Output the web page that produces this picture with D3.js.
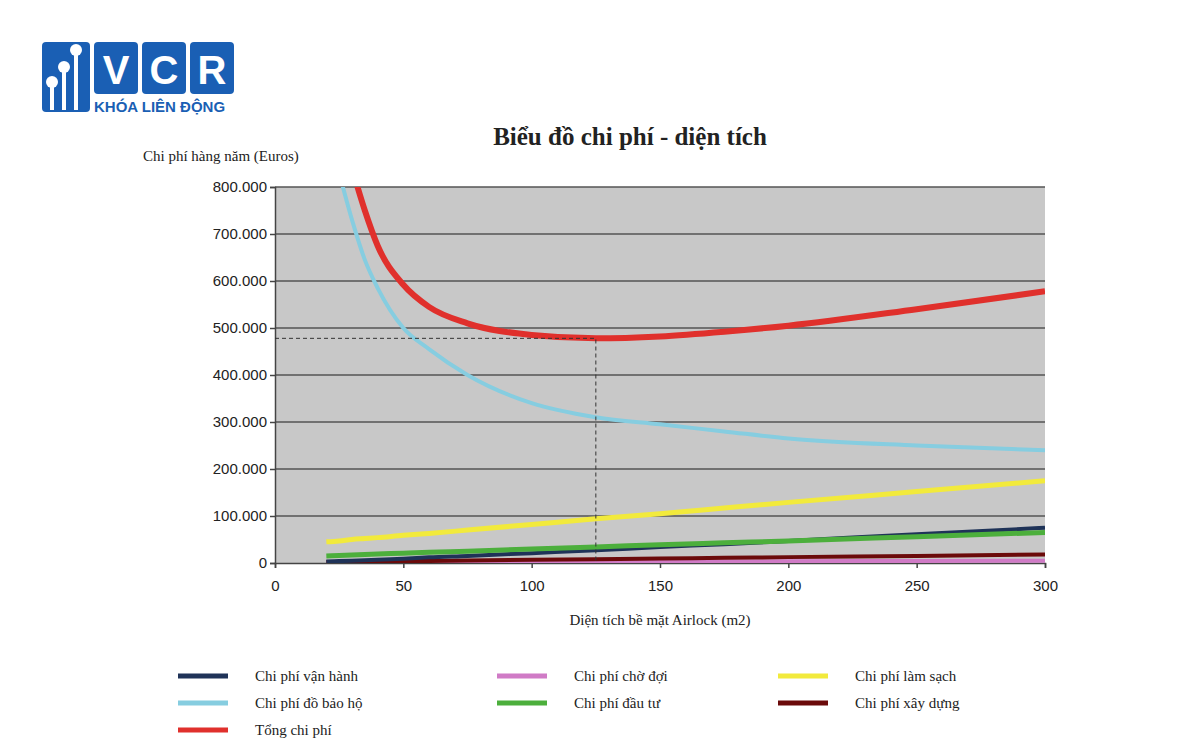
<!DOCTYPE html>
<html><head><meta charset="utf-8">
<script src="https://cdn.jsdelivr.net/npm/d3@7"></script>
<style>body{margin:0;background:#fff}</style></head>
<body><svg id="chart" width="1200" height="750"></svg>
<script>
const areas = [20, 25, 30, 35, 40, 50, 60, 75, 100, 125, 150, 175, 200, 250, 300];
const totalCost = [null, null, 840000, 750000, 675000, 592000, 545000, 510000, 485000, 478000, 482000, 492000, 505000, 540000, 578000];
const protectiveCost = [null, 830000, 730000, 645000, 585000, 500000, 455000, 400000, 340000, 310000, 295000, 280000, 265000, 250000, 240000];
const cleaningCost = [45000, 47000, 50000, 52000, 54000, 59000, 63000, 70000, 82000, 94000, 105000, 117000, 129000, 152000, 175000];
const investCost = [15000, 16000, 17000, 18000, 19000, 21000, 23000, 25000, 30000, 34000, 39000, 43000, 47000, 56000, 65000];
const operatingCost = [3000, 4000, 5000, 6000, 7000, 9000, 12000, 15000, 21000, 27000, 34000, 40000, 47000, 61000, 75000];
const constructionCost = [2000, 2200, 2500, 2800, 3100, 3700, 4300, 5200, 6700, 8200, 9700, 11000, 12500, 15000, 18000];
const waitingCost = [0, 200, 400, 500, 600, 800, 1000, 1300, 1800, 2300, 2800, 3200, 3600, 4300, 5000];
const yTicks = [0, 100000, 200000, 300000, 400000, 500000, 600000, 700000, 800000];
const xTicks = [0, 50, 100, 150, 200, 250, 300];

const series = [
  {name: "Chi phí vận hành", values: operatingCost, color: "#1f3358", w: 4},
  {name: "Chi phí chờ đợi", values: waitingCost, color: "#d07bc6", w: 4},
  {name: "Chi phí làm sạch", values: cleaningCost, color: "#f2ea3c", w: 5},
  {name: "Chi phí đồ bảo hộ", values: protectiveCost, color: "#86cde0", w: 4},
  {name: "Chi phí đầu tư", values: investCost, color: "#4caf3c", w: 5},
  {name: "Chi phí xây dựng", values: constructionCost, color: "#6b0a0a", w: 4},
  {name: "Tổng chi phí", values: totalCost, color: "#e0302c", w: 6}
];
const drawOrder = [1, 5, 0, 4, 2, 3, 6];

const svg = d3.select("#chart");
const font = "'Liberation Serif', serif";
const plotL = 275, plotR = 1045, plotT = 187, plotB = 563;
const x = d3.scaleLinear().domain([0, 300]).range([plotL, plotR]);
const y = d3.scaleLinear().domain([0, 800000]).range([plotB, plotT]);

// logo
const logo = svg.append("g").attr("transform", "translate(42,42)");
logo.append("rect").attr("width", 48).attr("height", 70).attr("rx", 4).attr("fill", "#1a5fb4");
[["V", 52], ["C", 100], ["R", 148]].forEach(([t, dx]) => {
  logo.append("rect").attr("x", dx).attr("y", 0).attr("width", 44).attr("height", 52).attr("rx", 4).attr("fill", "#1a5fb4");
  logo.append("text").attr("x", dx + 22).attr("y", 42).attr("text-anchor", "middle")
    .attr("fill", "#fff").attr("font-family", "Arial, sans-serif").attr("font-weight", "bold").attr("font-size", 40).text(t);
});
[[10, 40], [22, 25], [34, 8]].forEach(([cx, cy]) => {
  logo.append("circle").attr("cx", cx).attr("cy", cy).attr("r", 6).attr("fill", "#fff");
  logo.append("rect").attr("x", cx - 2).attr("y", cy).attr("width", 4).attr("height", 68 - cy).attr("fill", "#fff");
});
logo.append("text").attr("x", 52).attr("y", 70).attr("fill", "#1a5fb4").attr("font-family", "Arial, sans-serif")
  .attr("font-weight", "bold").attr("font-size", 15).text("KHÓA LIÊN ĐỘNG");

svg.append("text").attr("x", 630).attr("y", 145).attr("text-anchor", "middle").attr("font-family", font)
  .attr("font-weight", "bold").attr("font-size", 25).attr("fill", "#222").text("Biểu đồ chi phí - diện tích");
svg.append("text").attr("x", 143).attr("y", 161).attr("font-family", font).attr("font-size", 15).attr("fill", "#222")
  .text("Chi phí hàng năm (Euros)");
svg.append("text").attr("x", 660).attr("y", 625).attr("text-anchor", "middle").attr("font-family", font)
  .attr("font-size", 15).attr("fill", "#222").text("Diện tích bề mặt Airlock (m2)");

svg.append("rect").attr("x", plotL).attr("y", plotT).attr("width", plotR - plotL).attr("height", plotB - plotT).attr("fill", "#c8c8c8");
svg.append("g").selectAll("line").data(yTicks.slice(1)).join("line")
  .attr("x1", plotL).attr("x2", plotR).attr("y1", d => y(d)).attr("y2", d => y(d)).attr("stroke", "#555").attr("stroke-width", 1.5);

const yAxis = svg.append("g").attr("transform", `translate(${plotL},0)`)
  .call(d3.axisLeft(y).tickValues(yTicks).tickSize(5).tickFormat(d => d === 0 ? "0" : d3.format(",")(d).replace(/,/g, ".")));
const xAxis = svg.append("g").attr("transform", `translate(0,${plotB})`)
  .call(d3.axisBottom(x).tickValues(xTicks).tickSize(5).tickPadding(12));
[xAxis, yAxis].forEach(a => {
  a.selectAll("text").attr("font-family", "Arial, sans-serif").attr("font-size", 15).attr("fill", "#222");
  a.selectAll("line,path").attr("stroke", "#444").attr("stroke-width", 1.5);
});

svg.append("clipPath").attr("id", "clip").append("rect").attr("x", plotL).attr("y", plotT).attr("width", plotR - plotL).attr("height", plotB - plotT);

const line = d3.line().defined(d => d[1] != null).x(d => x(d[0])).y(d => y(d[1])).curve(d3.curveMonotoneX);
const plot = svg.append("g").attr("clip-path", "url(#clip)");
drawOrder.forEach(i => {
  const s = series[i];
  plot.append("path").datum(areas.map((a, j) => [a, s.values[j]])).attr("d", line)
    .attr("fill", "none").attr("stroke", s.color).attr("stroke-width", s.w);
});

// minimum marker
const minA = 125, minV = 478000;
svg.append("path").attr("d", `M${plotL},${y(minV)}H${x(minA)}V${plotB}`)
  .attr("fill", "none").attr("stroke", "#333").attr("stroke-dasharray", "4,3");

// legend
const cols = [178, 497, 778], rows = [676, 703, 730];
const legendPos = [[0, 0], [1, 0], [2, 0], [0, 1], [1, 1], [2, 1], [0, 2]];
series.forEach((s, i) => {
  const [c, r] = legendPos[i];
  const g = svg.append("g").attr("transform", `translate(${cols[c]},${rows[r]})`);
  g.append("line").attr("x1", 0).attr("x2", 50).attr("stroke", s.color).attr("stroke-width", 5);
  g.append("text").attr("x", 77).attr("y", 5).attr("font-family", font).attr("font-size", 15).attr("fill", "#222").text(s.name);
});
</script></body></html>
